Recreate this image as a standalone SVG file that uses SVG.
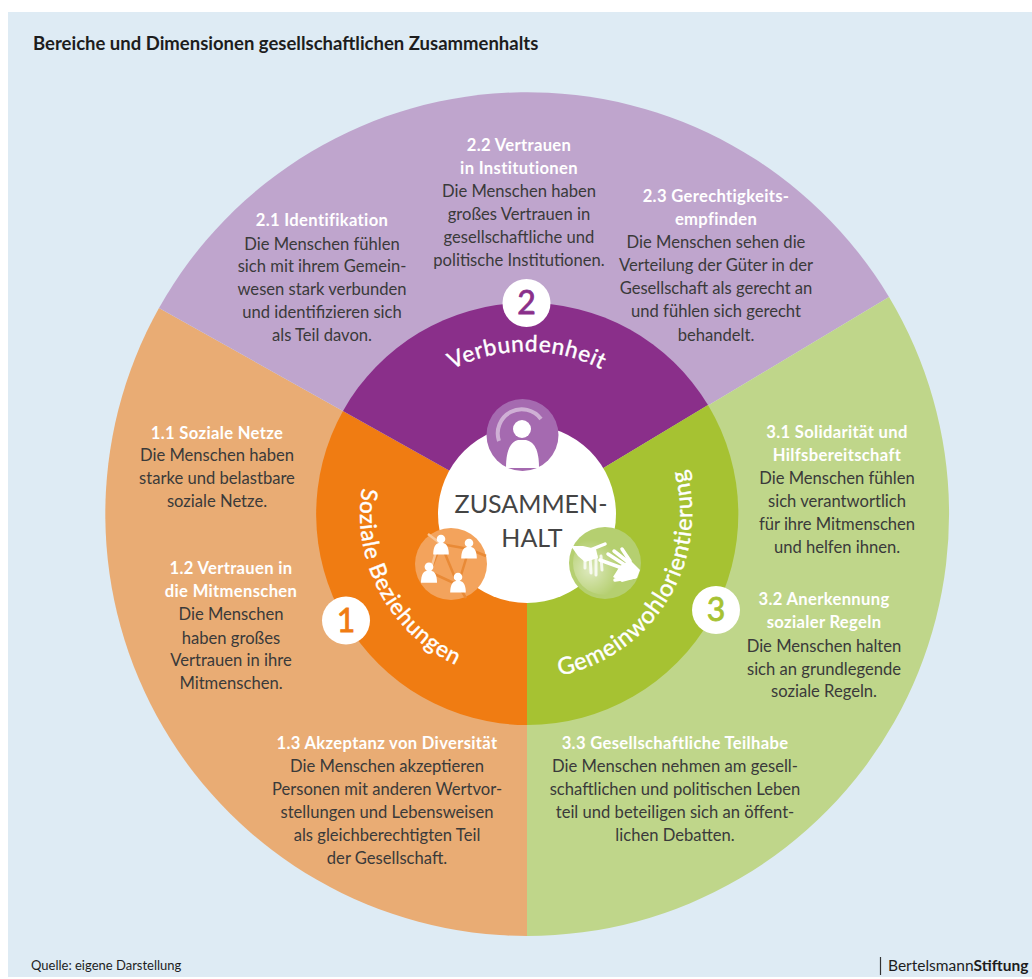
<svg xmlns="http://www.w3.org/2000/svg" xmlns:xlink="http://www.w3.org/1999/xlink" width="1032" height="979" viewBox="0 0 1032 979">
<style>
text{font-family:Lato,"Liberation Sans",sans-serif}
.b{font-size:16.6px;fill:#3a3a3a;text-anchor:middle}
.h{font-size:16.6px;font-weight:700;fill:#fff;letter-spacing:.33px;text-anchor:middle}
.c{font-size:22.500px;font-weight:400;fill:#fff;stroke:#fff;stroke-width:.4px;letter-spacing:.7px;text-anchor:middle}
.n{font-size:32px;font-weight:400;stroke-width:.8px;text-anchor:middle}
.z{font-size:25px;font-weight:400;fill:#444;text-anchor:middle}
.w{fill:#fff}
</style>
<defs>
<path id="a2" d="M386 432.500A163 163 0 0 1 668 432.500"/>
<path id="a1" d="M379.500 435.600A167 167 0 0 0 509.500 680"/>
<path id="a3" d="M471 669A165 165 0 0 0 639.500 393"/>
<g id="person"><circle cx="0" cy="-9" r="5.500"/><path d="M-10 11C-10 1-7-3-3-4L3-4C7-3 10 1 10 11Z"/></g>
<radialGradient id="glow" cx="590" cy="570" r="30" gradientUnits="userSpaceOnUse"><stop offset="0" stop-color="#fff" stop-opacity=".55"/><stop offset="1" stop-color="#fff" stop-opacity="0"/></radialGradient>
</defs>
<rect width="1032" height="979" fill="#fff"/>
<rect x="8" y="12" width="1024" height="965" fill="#deebf4"/>
<text x="33" y="50" font-size="18.500" font-weight="700" fill="#1d1d1d">Bereiche und Dimensionen gesellschaftlichen Zusammenhalts</text>

<g id="sector-1">
<path d="M527 514L159 308A422 422 0 0 0 527 936Z" fill="#e9ac74"/>
<path d="M527 514L343 411A211 211 0 0 0 527 725Z" fill="#f07c12"/>
<text class="c"><textPath xlink:href="#a1" href="#a1" startOffset="50%">Soziale Beziehungen</textPath></text>
<circle class="w" cx="346" cy="620.500" r="24"/><text class="n" x="346" y="632" fill="#f07c12" stroke="#f07c12">1</text>
<g id="text-1-1" transform="translate(0 1)"><text class="h" x="217" y="438">1.1 Soziale Netze</text><text class="b" x="217" y="460">Die Menschen haben</text><text class="b" x="217" y="483">starke und belastbare</text><text class="b" x="217" y="506">soziale Netze.</text></g>
<g id="text-1-2" transform="translate(0 1)"><text class="h" x="231" y="573">1.2 Vertrauen in</text><text class="h" x="231" y="596">die Mitmenschen</text><text class="b" x="231" y="619">Die Menschen</text><text class="b" x="231" y="643">haben großes</text><text class="b" x="231" y="665">Vertrauen in ihre</text><text class="b" x="231" y="688">Mitmenschen.</text></g>
<g id="text-1-3" transform="translate(0 1)"><text class="h" x="387" y="748">1.3 Akzeptanz von Diversität</text><text class="b" x="387" y="771">Die Menschen akzeptieren</text><text class="b" x="387" y="794">Personen mit anderen Wertvor-</text><text class="b" x="387" y="817">stellungen und Lebensweisen</text><text class="b" x="387" y="840">als gleichberechtigten Teil</text><text class="b" x="387" y="863">der Gesellschaft.</text></g>
</g>

<g id="sector-2">
<path d="M527 514L159 308A422 422 0 0 1 889 297Z" fill="#bfa5cd"/>
<path d="M527 514L343 411A211 211 0 0 1 708 405Z" fill="#8a2f8a"/>
<text class="c"><textPath xlink:href="#a2" href="#a2" startOffset="50%">Verbundenheit</textPath></text>
<circle class="w" cx="526.500" cy="303" r="24"/><text class="n" x="526.500" y="314" fill="#8a2f8a" stroke="#8a2f8a">2</text>
<g id="text-2-1"><text class="h" x="322" y="226">2.1 Identifikation</text><text class="b" x="322" y="250">Die Menschen fühlen</text><text class="b" x="322" y="272">sich mit ihrem Gemein-</text><text class="b" x="322" y="295">wesen stark verbunden</text><text class="b" x="322" y="318">und identifizieren sich</text><text class="b" x="322" y="341">als Teil davon.</text></g>
<g id="text-2-2" transform="translate(0 1)"><text class="h" x="519" y="150">2.2 Vertrauen</text><text class="h" x="519" y="173">in Institutionen</text><text class="b" x="519" y="196">Die Menschen haben</text><text class="b" x="519" y="219">großes Vertrauen in</text><text class="b" x="519" y="242">gesellschaftliche und</text><text class="b" x="519" y="265">politische Institutionen.</text></g>
<g id="text-2-3" transform="translate(0 1)"><text class="h" x="716" y="201">2.3 Gerechtigkeits-</text><text class="h" x="716" y="224">empfinden</text><text class="b" x="716" y="247">Die Menschen sehen die</text><text class="b" x="716" y="270">Verteilung der Güter in der</text><text class="b" x="716" y="293">Gesellschaft als gerecht an</text><text class="b" x="716" y="316">und fühlen sich gerecht</text><text class="b" x="716" y="340">behandelt.</text></g>
</g>

<g id="sector-3">
<path d="M527 514L889 297A422 422 0 0 1 527 936Z" fill="#bfd68a"/>
<path d="M527 514L708 405A211 211 0 0 1 527 725Z" fill="#a6c232"/>
<text class="c" style="font-size:23.500px"><textPath xlink:href="#a3" href="#a3" startOffset="50%">Gemeinwohlorientierung</textPath></text>
<circle class="w" cx="716" cy="610" r="24"/><text class="n" x="716" y="621" fill="#a6c232" stroke="#a6c232">3</text>
<g id="text-3-1" transform="translate(0 1)"><text class="h" x="837" y="437">3.1 Solidarität und</text><text class="h" x="837" y="460">Hilfsbereitschaft</text><text class="b" x="837" y="483">Die Menschen fühlen</text><text class="b" x="837" y="506">sich verantwortlich</text><text class="b" x="837" y="529">für ihre Mitmenschen</text><text class="b" x="837" y="552">und helfen ihnen.</text></g>
<g id="text-3-2"><text class="h" x="824" y="605">3.2 Anerkennung</text><text class="h" x="824" y="628">sozialer Regeln</text><text class="b" x="824" y="652">Die Menschen halten</text><text class="b" x="824" y="675">sich an grundlegende</text><text class="b" x="824" y="697">soziale Regeln.</text></g>
<g id="text-3-3" transform="translate(0 1)"><text class="h" x="675" y="748">3.3 Gesellschaftliche Teilhabe</text><text class="b" x="675" y="771">Die Menschen nehmen am gesell-</text><text class="b" x="675" y="794">schaftlichen und politischen Leben</text><text class="b" x="675" y="817">teil und beteiligen sich an öffent-</text><text class="b" x="675" y="840">lichen Debatten.</text></g>
</g>

<g id="center">
<circle class="w" cx="527" cy="514" r="89"/>
<text class="z" x="531" y="513">ZUSAMMEN-</text>
<text class="z" x="532" y="547">HALT</text>
</g>

<g id="icon-person">
<circle cx="522.500" cy="435" r="36" fill="#a56ab0"/>
<path d="M499 441A24 24 0 0 1 541 419" fill="none" stroke="#d9c2de" stroke-width="4" stroke-opacity=".8"/>
<circle class="w" cx="522" cy="429" r="9"/>
<path class="w" d="M506 468C506 449 511 442 518 440L526 440C534 442 539 449 539 468Z"/>
</g>

<g id="icon-network">
<circle cx="451" cy="564" r="36" fill="#f3a35c"/>
<path d="M441 544L469 549L458 585L430 572ZM441 544L458 585M469 549L486 556M458 585L466 598" fill="none" stroke="#e98a36" stroke-width="2.500"/>
<path d="M441 544L428 534M430 572L436 552" fill="none" stroke="#f8c596" stroke-width="2.500"/>
<use href="#person" xlink:href="#person" transform="translate(441 546) scale(.78)" class="w"/>
<use href="#person" xlink:href="#person" transform="translate(469 550) scale(.78)" class="w"/>
<use href="#person" xlink:href="#person" transform="translate(429 574) scale(.8)" class="w"/>
<use href="#person" xlink:href="#person" transform="translate(458 584) scale(.78)" class="w"/>
</g>

<g id="icon-hands">
<circle cx="605" cy="563" r="36" fill="#b5cf70"/>
<circle cx="605" cy="563" r="32" fill="url(#glow)"/>
<g fill="none" stroke="#fff" stroke-linecap="round">
<path d="M585 553L585 568M590 555L591 573M596 556L596 575M601 556L602 570" stroke-width="3" stroke-opacity=".8"/>
<path d="M590 550L605 544" stroke-width="3.500"/>
<path d="M622 568L600 560M625 565L608 554M628 562L614 551M630 561L622 549" stroke-width="3.500"/>
<path d="M635 577L615 580" stroke-width="3.500"/>
</g>
<path class="w" d="M571 546L583 546L596 549L598 558L585 562L578 556Z"/>
<path class="w" d="M620 566L630 560L640 570L637 578L622 582L613 577Z"/>
</g>

<g id="footer">
<text x="31" y="970" font-size="13" fill="#1d1d1d">Quelle: eigene Darstellung</text>
<path d="M880.500 957V975" stroke="#333" stroke-width="1.200"/>
<text x="888" y="971" font-size="15.500" fill="#1d1d1d">Bertelsmann<tspan font-weight="700">Stiftung</tspan></text>
</g>
</svg>
